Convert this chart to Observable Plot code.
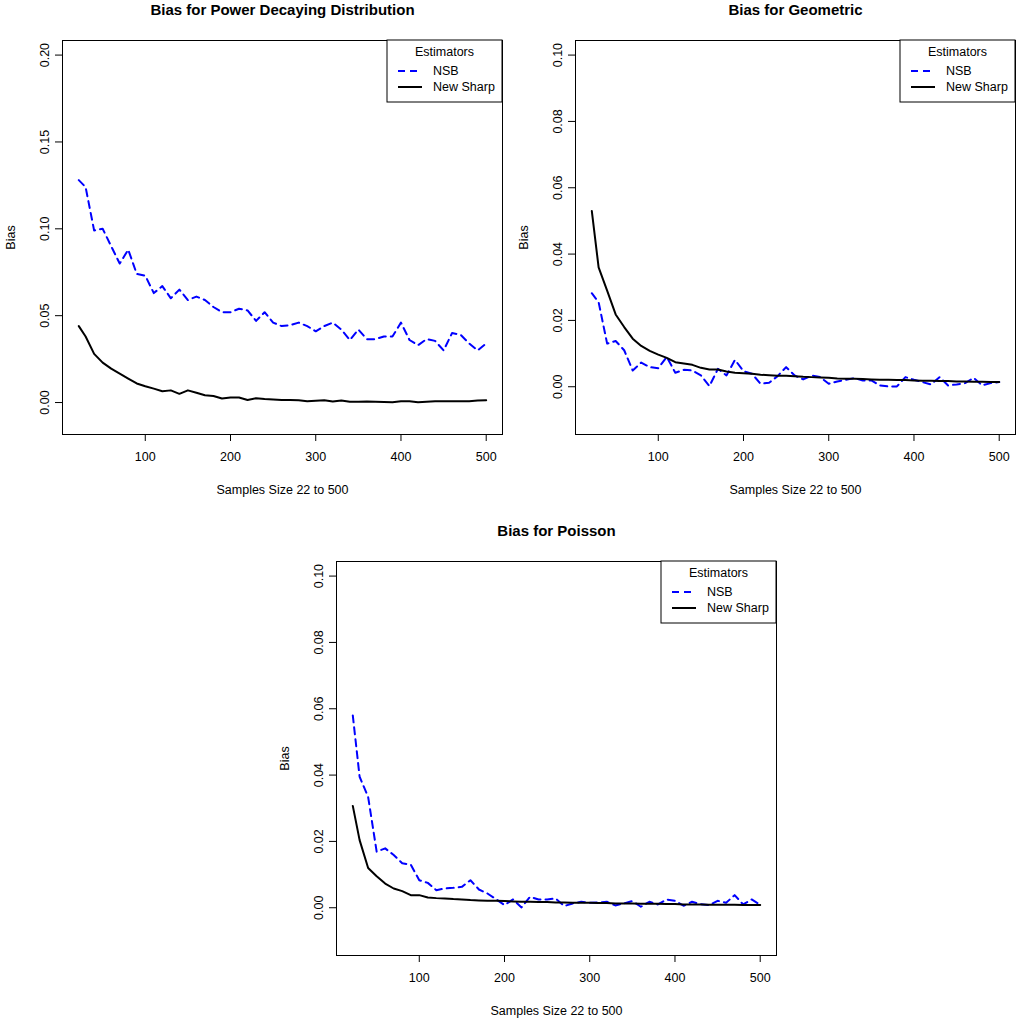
<!DOCTYPE html>
<html>
<head>
<meta charset="utf-8">
<script src="https://cdn.jsdelivr.net/npm/d3@7"></script>
<script src="https://cdn.jsdelivr.net/npm/@observablehq/plot@0.6"></script>
<style>
  body { margin: 0; background: #fff; }
  #page { position: relative; width: 1024px; height: 1021px; overflow: hidden; font-family: "Liberation Sans", Arial, sans-serif; }
  .panel { position: absolute; }
</style>
</head>
<body>
<div id="page"></div>
<script>
// sample sizes used in the simulation
const sampleSizes = [22, 30, 40, 50, 60, 70, 80, 90, 100, 110, 120, 130, 140, 150, 160, 170, 180, 190, 200,
  210, 220, 230, 240, 250, 260, 270, 280, 290, 300, 310, 320, 330, 340, 350, 360, 370, 380, 390, 400,
  410, 420, 430, 440, 450, 460, 470, 480, 490, 500];

// Power decaying distribution
const powerNSB = [0.128, 0.124, 0.099, 0.100, 0.090, 0.080, 0.088, 0.074, 0.073, 0.063, 0.067, 0.060, 0.065, 0.059,
  0.061, 0.059, 0.055, 0.052, 0.052, 0.054, 0.053, 0.047, 0.052, 0.046, 0.044, 0.0445, 0.046, 0.044, 0.041,
  0.044, 0.046, 0.042, 0.036, 0.042, 0.0365, 0.0365, 0.038, 0.038, 0.046, 0.036, 0.033, 0.0365, 0.0355, 0.030,
  0.040, 0.039, 0.034, 0.030, 0.034];
const powerSharp = [0.044, 0.038, 0.028, 0.023, 0.0195, 0.0167, 0.0138, 0.011, 0.0094, 0.008, 0.0065, 0.007, 0.005,
  0.007, 0.0056, 0.0042, 0.0038, 0.0023, 0.0029, 0.0029, 0.0015, 0.0025, 0.002, 0.0017, 0.0015, 0.0015, 0.0013,
  0.0008, 0.001, 0.0013, 0.0006, 0.0012, 0.0004, 0.0004, 0.0006, 0.0004, 0.0003, 0.0002, 0.0008, 0.0008, 0.0002,
  0.0004, 0.0007, 0.0007, 0.0007, 0.0007, 0.0008, 0.0012, 0.0013];

// Geometric
const geomNSB = [0.0282, 0.0255, 0.013, 0.0138, 0.011, 0.0049, 0.0073, 0.0059, 0.0056, 0.009, 0.0042, 0.0051, 0.0049,
  0.0034, 0.0002, 0.0054, 0.0034, 0.0081, 0.0047, 0.0039, 0.0009, 0.0012, 0.0032, 0.0059, 0.0034, 0.0022, 0.0034,
  0.0029, 0.0009, 0.0016, 0.0021, 0.0026, 0.0019, 0.0019, 0.0004, 0.0001, 0.0001, 0.0029, 0.0021, 0.0014, 0.0007,
  0.0029, 0.0004, 0.0007, 0.0011, 0.0027, 0.0004, 0.0011, 0.0014];
const geomSharp = [0.053, 0.036, 0.029, 0.0218, 0.018, 0.0145, 0.0123, 0.0108, 0.0097, 0.0087, 0.0074, 0.007, 0.0066,
  0.0057, 0.0052, 0.0052, 0.0046, 0.0042, 0.0041, 0.0039, 0.0036, 0.0035, 0.0033, 0.0033, 0.0032, 0.003, 0.0029,
  0.0028, 0.0027, 0.0025, 0.0024, 0.0024, 0.0023, 0.0022, 0.0021, 0.0021, 0.002, 0.002, 0.0019, 0.0018, 0.0018,
  0.0017, 0.0017, 0.0016, 0.0016, 0.0015, 0.0015, 0.0014, 0.0014];

// Poisson
const poisNSB = [0.058, 0.0395, 0.0334, 0.0169, 0.0179, 0.0159, 0.0134, 0.013, 0.0083, 0.0075, 0.0053, 0.0058, 0.006,
  0.0063, 0.0083, 0.0055, 0.0043, 0.0026, 0.0008, 0.0025, 0.0001, 0.0033, 0.0025, 0.0025, 0.0028, 0.0005, 0.0013,
  0.0018, 0.0015, 0.0016, 0.0018, 0.0007, 0.0013, 0.002, 0.0003, 0.0018, 0.001, 0.0025, 0.0021, 0.0006, 0.0018,
  0.0011, 0.0008, 0.0021, 0.0015, 0.0038, 0.001, 0.0025, 0.0009];
const poisSharp = [0.0307, 0.0204, 0.012, 0.0095, 0.0073, 0.0058, 0.005, 0.0038, 0.0038, 0.0031, 0.0029, 0.0028, 0.0026,
  0.0025, 0.0023, 0.0022, 0.0021, 0.0021, 0.002, 0.0019, 0.0018, 0.0018, 0.0017, 0.0017, 0.0016, 0.0016, 0.0015,
  0.0015, 0.0015, 0.0014, 0.0014, 0.0013, 0.0013, 0.0013, 0.0012, 0.0012, 0.0012, 0.0011, 0.0011, 0.001, 0.001,
  0.001, 0.0009, 0.0009, 0.0009, 0.0009, 0.0008, 0.0008, 0.0008];

const xTicks = [100, 200, 300, 400, 500];
const yTicksPower = [0, 0.05, 0.10, 0.15, 0.20];
const yTicksSmall = [0, 0.02, 0.04, 0.06, 0.08, 0.10];

const seriesNames = ["NSB", "New Sharp"];
const seriesColors = ["#0000ff", "#000000"];
const seriesDash = ["7,5", null];

const font = "Liberation Sans, Arial, sans-serif";

// R style legend box in the top-right corner of the plot region
function legend(index, scales, values, dims) {
  const x1 = dims.width - dims.marginRight, x0 = x1 - 115, y0 = dims.marginTop;
  const g = d3.create("svg:g").attr("font-family", font).attr("font-size", 12.5);
  g.append("rect").attr("x", x0).attr("y", y0).attr("width", x1 - x0).attr("height", 62)
    .attr("fill", "white").attr("stroke", "#000");
  g.append("text").attr("x", (x0 + x1) / 2).attr("y", y0 + 12).attr("dy", "0.35em")
    .attr("text-anchor", "middle").text("Estimators");
  seriesNames.forEach((name, i) => {
    const y = y0 + 31 + i * 16;
    g.append("line").attr("x1", x0 + 11).attr("x2", x0 + 35).attr("y1", y).attr("y2", y)
      .attr("stroke", seriesColors[i]).attr("stroke-width", 2)
      .attr("stroke-dasharray", seriesDash[i]);
    g.append("text").attr("x", x0 + 46).attr("y", y).attr("dy", "0.35em")
      .attr("text-anchor", "start").text(name);
  });
  return g.node();
}

function panel({title, nsb, sharp, yDomain, yTicks, left, top, height, marginLeft, marginRight, marginBottom}) {
  const rows = sampleSizes.map((n, i) => ({n, nsb: nsb[i], sharp: sharp[i]}));
  const chart = Plot.plot({
    width: 512,
    height,
    marginTop: 40,
    marginLeft,
    marginRight,
    marginBottom,
    style: {fontFamily: font, fontSize: "12.5px", color: "#000", background: "white", overflow: "visible"},
    x: {domain: [2.88, 519.12]},
    y: {domain: yDomain},
    marks: [
      Plot.frame({stroke: "#000", strokeWidth: 1}),
      Plot.axisX(xTicks, {tickSize: 7, tickPadding: 11, label: null}),
      Plot.axisY(yTicks, {tickSize: 7, tickPadding: 7, tickRotate: -90, tickFormat: d3.format(".2f"), label: null}),
      Plot.lineY(rows, {x: "n", y: "nsb", stroke: seriesColors[0], strokeWidth: 2, strokeDasharray: seriesDash[0]}),
      Plot.lineY(rows, {x: "n", y: "sharp", stroke: seriesColors[1], strokeWidth: 2}),
      Plot.text([title], {text: d => d, frameAnchor: "top", lineAnchor: "middle", dy: -30, fontWeight: "bold", fontSize: 15}),
      Plot.text(["Samples Size 22 to 500"], {text: d => d, frameAnchor: "bottom", lineAnchor: "middle", dy: 55}),
      Plot.text(["Bias"], {text: d => d, frameAnchor: "left", textAnchor: "middle", lineAnchor: "middle", dx: -52, rotate: -90}),
      legend
    ]
  });
  chart.classList.add("panel");
  chart.style.left = left + "px";
  chart.style.top = top + "px";
  document.getElementById("page").appendChild(chart);
}

panel({title: "Bias for Power Decaying Distribution", nsb: powerNSB, sharp: powerSharp,
  yDomain: [-0.0184, 0.2084], yTicks: yTicksPower, left: 0, top: 0, height: 510,
  marginLeft: 62, marginRight: 10, marginBottom: 76});
panel({title: "Bias for Geometric", nsb: geomNSB, sharp: geomSharp,
  yDomain: [-0.0144, 0.1044], yTicks: yTicksSmall, left: 512, top: 0, height: 510,
  marginLeft: 63, marginRight: 9, marginBottom: 76});
panel({title: "Bias for Poisson", nsb: poisNSB, sharp: poisSharp,
  yDomain: [-0.0144, 0.1044], yTicks: yTicksSmall, left: 274, top: 521, height: 500,
  marginLeft: 62, marginRight: 10, marginBottom: 66});
</script>
</body>
</html>
